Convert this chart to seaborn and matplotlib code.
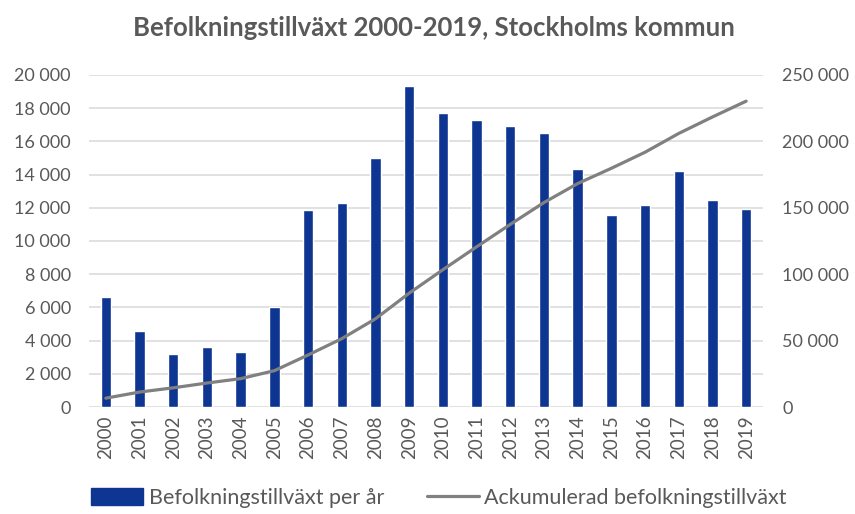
import matplotlib
matplotlib.use("Agg")
import matplotlib.pyplot as plt
from matplotlib.ticker import FuncFormatter
from matplotlib.patches import Patch
from matplotlib.lines import Line2D
import seaborn as sns
import pandas as pd
import numpy as np

years = [str(y) for y in range(2000, 2020)]
growth = [6650, 4600, 3200, 3600, 3300, 6000, 11850, 12300, 15000, 19350,
          17700, 17300, 16950, 16500, 14350, 11550, 12150, 14200, 12450, 11950]
cumulative = [6650, 11250, 14450, 18050, 21350, 27350, 39150, 51450, 66400, 85700,
              103350, 120600, 137500, 153950, 168250, 179750, 191850, 206000, 218400, 230300]
left_ticks = [0, 2000, 4000, 6000, 8000, 10000, 12000, 14000, 16000, 18000, 20000]
right_ticks = [0, 50000, 100000, 150000, 200000, 250000]
title = "Befolkningstillväxt 2000-2019, Stockholms kommun"
label_bar = "Befolkningstillväxt per år"
label_line = "Ackumulerad befolkningstillväxt"

df = pd.DataFrame({"year": years, "growth": growth, "cum": cumulative,
                   "pos": np.arange(len(years))})

sns.set_theme(style="white")
plt.rcParams["font.family"] = ["Lato", "DejaVu Sans"]
txt = "#595959"
bar_c = "#0E3591"
line_c = "#808080"
grid_c = "#D9D9D9"

fig = plt.figure(figsize=(8.55, 5.14), dpi=100)
ax = fig.add_axes([89/855, 1-407/514, (763-89)/855, (407-75)/514])
sns.barplot(data=df, x="year", y="growth", color=bar_c, width=0.31,
            saturation=1, ax=ax, zorder=2)
ax.set_ylim(0, 20000)
ax.set_xlim(-0.5, len(years)-0.5)
ax.set_yticks(left_ticks)
fmt = FuncFormatter(lambda v, p: f"{int(v):,}".replace(",", " "))
ax.yaxis.set_major_formatter(fmt)
ax.grid(axis="y", color=grid_c, lw=1.1, zorder=0)
ax.set_axisbelow(True)
for s in ax.spines.values():
    s.set_visible(False)
ax.set_xlabel("")
ax.set_ylabel("")
ax.tick_params(axis="y", length=0, pad=13, labelsize=13, labelcolor=txt)
ax.tick_params(axis="x", length=0, pad=6, labelsize=13.5, labelcolor=txt, rotation=90)

ax2 = ax.twinx()
sns.lineplot(data=df, x="pos", y="cum", color=line_c, lw=2.3, ax=ax2, zorder=3)
ax2.set_ylim(0, 250000)
ax2.set_xlim(-0.5, len(years)-0.5)
ax2.set_yticks(right_ticks)
ax2.yaxis.set_major_formatter(fmt)
for s in ax2.spines.values():
    s.set_visible(False)
ax2.set_ylabel("")
ax2.set_xlabel("")
ax2.grid(False)
ax2.tick_params(axis="y", length=0, pad=14, labelsize=13, labelcolor=txt)

fig.text(434/855, 1-28/514, title, ha="center", va="center",
         fontsize=18.5, fontweight="bold", color=txt)

handles = [Patch(facecolor=bar_c, edgecolor=bar_c),
           Line2D([0], [0], color=line_c, lw=2.3)]
fig.legend(handles, [label_bar, label_line], loc="center",
           bbox_to_anchor=(439/855, 1-498/514), ncol=2, frameon=False,
           fontsize=15.5, labelcolor=txt, handlelength=2.4, handleheight=0.8,
           handletextpad=0.25, columnspacing=2.0)

fig.savefig("out.png", dpi=100)
